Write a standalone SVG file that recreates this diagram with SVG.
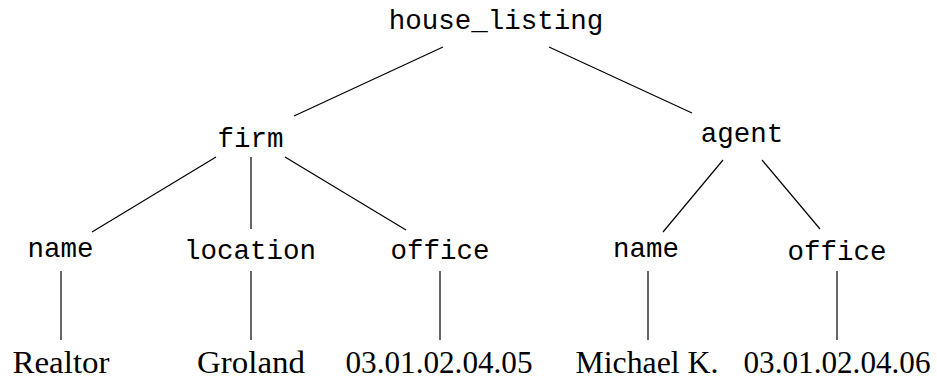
<svg xmlns="http://www.w3.org/2000/svg" width="937" height="383" viewBox="0 0 937 383">
  <style>
    .tt { font-family: "Liberation Mono", "DejaVu Sans Mono", monospace; font-size: 27.5px; fill: #000; text-anchor: middle; }
    .rm { font-family: "Liberation Serif", "DejaVu Serif", serif; font-size: 32.5px; fill: #000; text-anchor: middle; }
    .edge { stroke: #000; stroke-width: 1.2; fill: none; }
  </style>
  <rect width="937" height="383" fill="#fff"/>

  <!-- tree edges -->
  <g id="connectors" class="edge">
    <line x1="443" y1="47" x2="294" y2="116"/>
    <line x1="549" y1="47" x2="692" y2="113"/>
    <line x1="216" y1="157" x2="92" y2="232"/>
    <line x1="251" y1="157" x2="251" y2="229"/>
    <line x1="285" y1="157" x2="406" y2="230"/>
    <line x1="723" y1="160" x2="663" y2="232"/>
    <line x1="762" y1="160" x2="820" y2="229"/>
    <line x1="61" y1="271" x2="61" y2="340"/>
    <line x1="251" y1="271" x2="251" y2="340"/>
    <line x1="440" y1="271" x2="440" y2="340"/>
    <line x1="648" y1="271" x2="648" y2="340"/>
    <line x1="837" y1="271" x2="837" y2="340"/>
  </g>

  <!-- element nodes -->
  <g id="house_listing"><text class="tt" x="496" y="29">house_listing</text></g>
  <g id="firm"><text class="tt" x="250.5" y="147">firm</text></g>
  <g id="agent"><text class="tt" x="742" y="142">agent</text></g>
  <g id="firm_name"><text class="tt" x="60.5" y="257">name</text></g>
  <g id="firm_location"><text class="tt" x="250" y="259">location</text></g>
  <g id="firm_office"><text class="tt" x="440" y="259">office</text></g>
  <g id="agent_name"><text class="tt" x="646" y="257">name</text></g>
  <g id="agent_office"><text class="tt" x="837" y="260">office</text></g>

  <!-- leaf values -->
  <g id="val_realtor"><text class="rm" x="61" y="373" textLength="97" lengthAdjust="spacingAndGlyphs">Realtor</text></g>
  <g id="val_groland"><text class="rm" x="251" y="373" textLength="108" lengthAdjust="spacingAndGlyphs">Groland</text></g>
  <g id="val_office1"><text class="rm" x="439" y="373" textLength="187" lengthAdjust="spacingAndGlyphs">03.01.02.04.05</text></g>
  <g id="val_michael"><text class="rm" x="647" y="373" textLength="143" lengthAdjust="spacingAndGlyphs">Michael K.</text></g>
  <g id="val_office2"><text class="rm" x="837" y="373" textLength="187" lengthAdjust="spacingAndGlyphs">03.01.02.04.06</text></g>
</svg>
